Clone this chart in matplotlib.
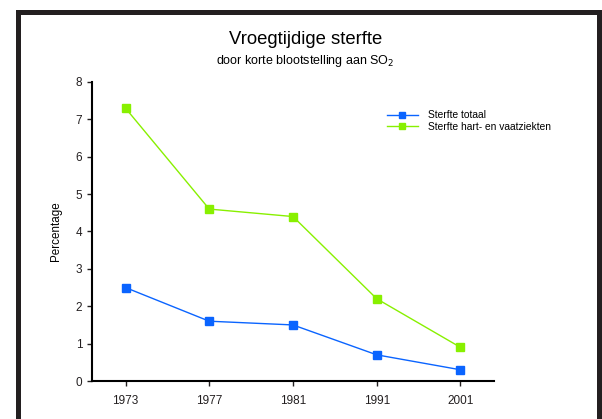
import matplotlib
matplotlib.use('Agg')
import matplotlib.pyplot as plt
from matplotlib.patches import Rectangle

plt.rcParams['font.family'] = ['Liberation Sans', 'DejaVu Sans']

# Data
jaren = ['1973', '1977', '1981', '1991', '2001']
sterfte_totaal = [2.5, 1.6, 1.5, 0.7, 0.3]
sterfte_hart = [7.3, 4.6, 4.4, 2.2, 0.9]

fig = plt.figure(figsize=(6.02, 4.19), dpi=100)

# Zwart kader rond de grafiek
fig.patches.append(Rectangle((17.5 / 602, -0.05), 581 / 602, 1.05 - 12.5 / 419,
                             transform=fig.transFigure, fill=False,
                             edgecolor='#231f20', linewidth=3.6))

ax = fig.add_axes([92 / 602, 1 - 381 / 419, 402 / 602, 299 / 419])
x = range(len(jaren))
ax.plot(x, sterfte_totaal, color='#0a64ff', marker='s', markersize=5.3,
        linewidth=1, label='Sterfte totaal')
ax.plot(x, sterfte_hart, color='#88f000', marker='s', markersize=5.3,
        linewidth=1, label='Sterfte hart- en vaatziekten')

ax.set_xlim(-0.4, 4.4)
ax.set_ylim(0, 8)
ax.set_xticks(list(x))
ax.set_xticklabels(jaren)
ax.set_yticks(range(0, 9))
ax.spines['top'].set_visible(False)
ax.spines['right'].set_visible(False)
ax.spines['left'].set_linewidth(1.5)
ax.spines['bottom'].set_linewidth(1.5)
ax.tick_params(axis='both', labelsize=8.5, colors='#231f20', length=3.5, width=1)
ax.tick_params(axis='x', pad=6.5)
ax.set_ylabel('Percentage', fontsize=8.4, labelpad=10)

fig.text(0.507, 1 - 40 / 419, 'Vroegtijdige sterfte', ha='center', va='center', fontsize=13.3)
fig.text(0.507, 1 - 61 / 419, 'door korte blootstelling aan SO$_2$', ha='center', va='center',
         fontsize=9)

fig.legend(*ax.get_legend_handles_labels(), loc='upper left',
           bbox_to_anchor=(386.7 / 602, 1 - 110.5 / 419), frameon=False, fontsize=7.4,
           handlelength=3.0, handletextpad=1.0, borderpad=0, borderaxespad=0,
           labelspacing=0.15, markerscale=0.85)

plt.savefig('out.png', dpi=100)
